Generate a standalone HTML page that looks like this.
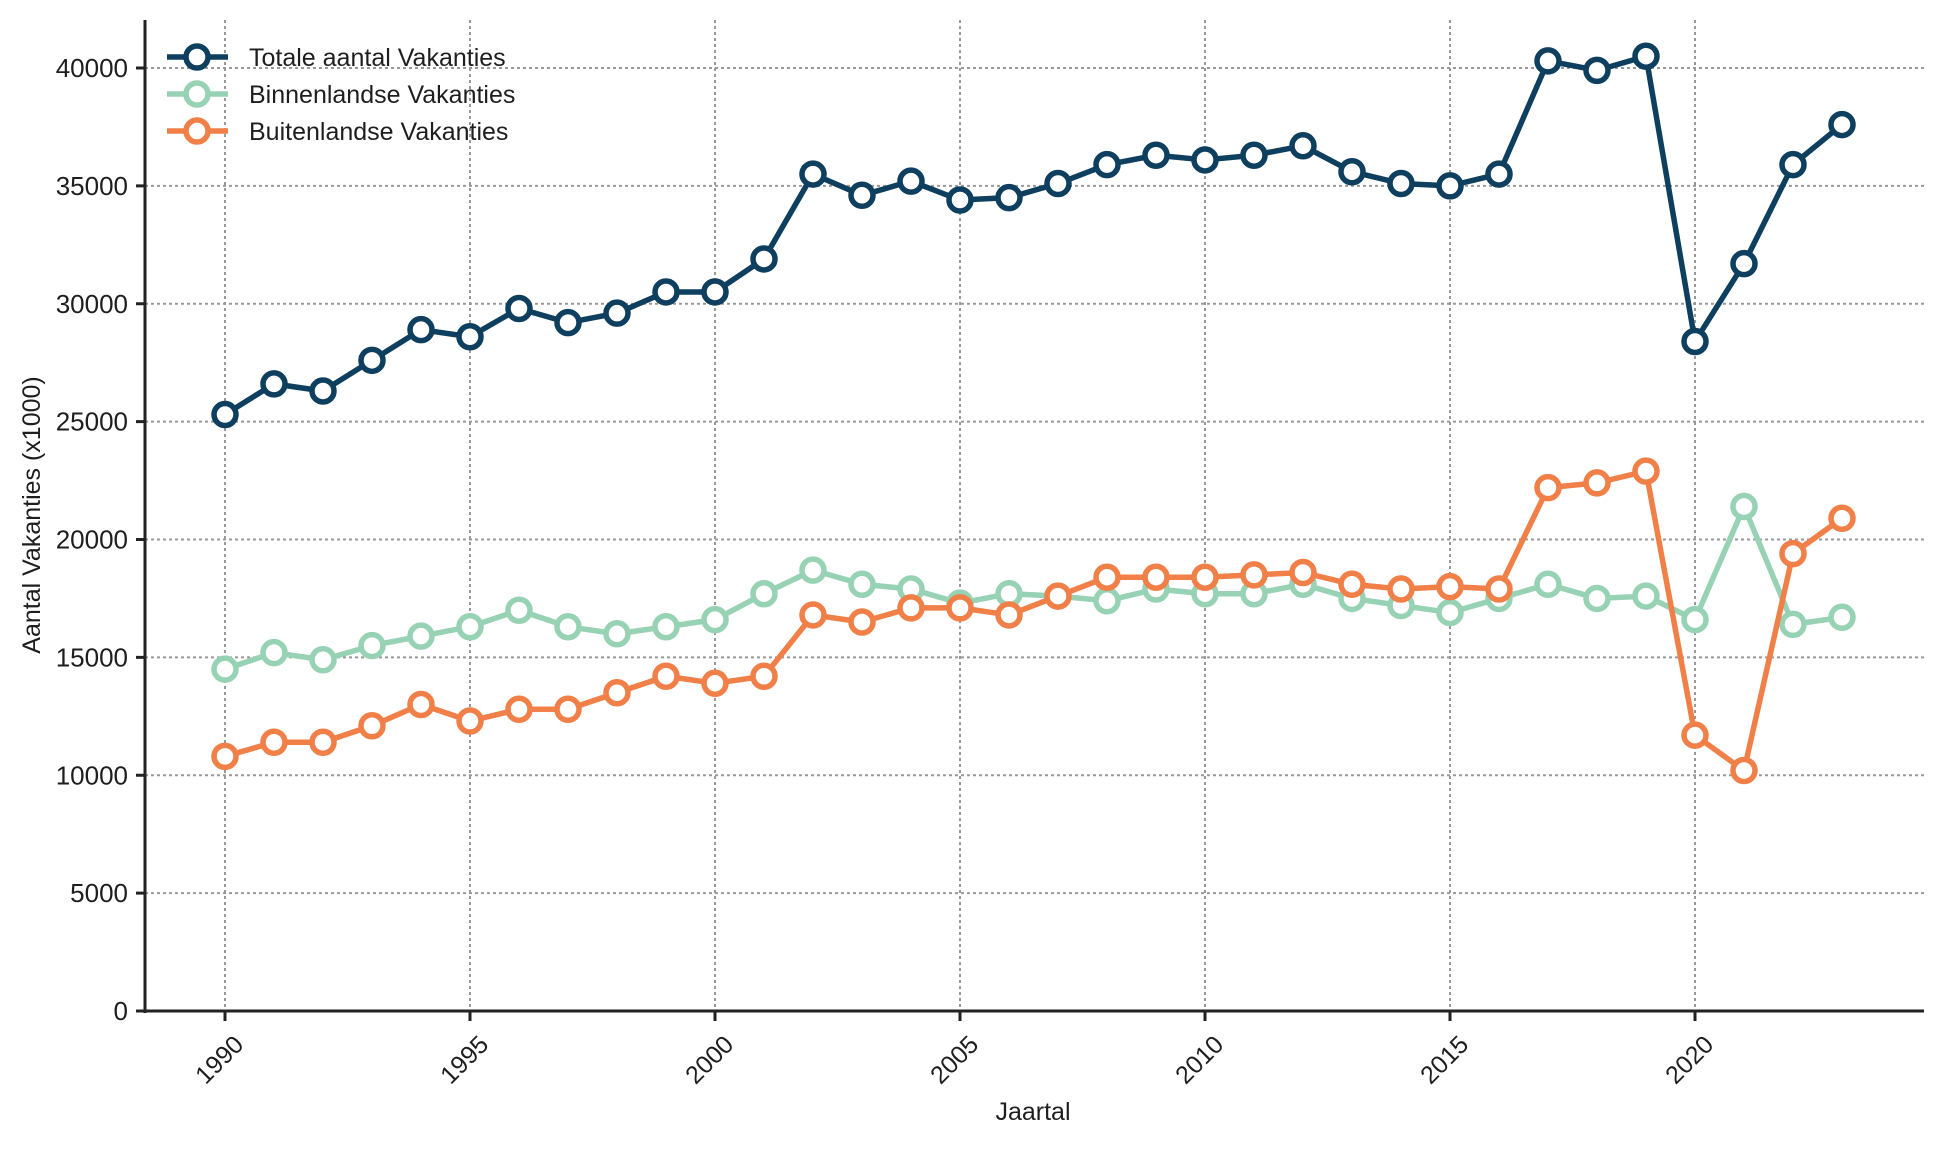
<!DOCTYPE html>
<html><head><meta charset="utf-8"><style>
body{margin:0;background:#fff}
text{font-family:"Liberation Sans",sans-serif;fill:#1e1e1e}
</style></head><body>
<svg id="chart" width="1944" height="1144" viewBox="0 0 1944 1144" xmlns="http://www.w3.org/2000/svg"></svg>
<script>
const years=[];for(let y=1990;y<=2023;y++)years.push(y);
const totale=[25300,26600,26300,27600,28900,28600,29800,29200,29600,30500,30500,31900,35500,34600,35200,34400,34500,35100,35900,36300,36100,36300,36700,35600,35100,35000,35500,40300,39900,40500,28400,31700,35900,37600];
const binnen=[14500,15200,14900,15500,15900,16300,17000,16300,16000,16300,16600,17700,18700,18100,17900,17300,17700,17600,17400,17900,17700,17700,18100,17500,17200,16900,17500,18100,17500,17600,16600,21400,16400,16700];
const buiten=[10800,11400,11400,12100,13000,12300,12800,12800,13500,14200,13900,14200,16800,16500,17100,17100,16800,17600,18400,18400,18400,18500,18600,18100,17900,18000,17900,22200,22400,22900,11700,10200,19400,20900];
const xTicks=[1990,1995,2000,2005,2010,2015,2020];
const yTicks=[0,5000,10000,15000,20000,25000,30000,35000,40000];
const seriesNames=["Totale aantal Vakanties","Binnenlandse Vakanties","Buitenlandse Vakanties"];
const colors=["#0e3f5e","#98d2b4","#f07f48"];
const X=v=>225+(v-1990)*49;
const Y=v=>1011-v*943/40000;
const svg=document.getElementById('chart');
const NS='http://www.w3.org/2000/svg';
function mk(tag,attrs,parent){const e=document.createElementNS(NS,tag);for(const k in attrs)e.setAttribute(k,attrs[k]);(parent||svg).appendChild(e);return e;}
xTicks.forEach(t=>{const l=mk('line',{x1:X(t),x2:X(t),y1:20,y2:1011,stroke:'#999','stroke-width':2,'stroke-dasharray':'3,3'});

});
yTicks.forEach(t=>{if(t===0)return;const l=mk('line',{x1:145,x2:1924,y1:Y(t),y2:Y(t),stroke:'#999','stroke-width':2,'stroke-dasharray':'3,3'});

});
const ax=mk('line',{x1:145,x2:145,y1:20,y2:1013,stroke:'#222','stroke-width':3});


const bx=mk('line',{x1:143,x2:1924,y1:1011,y2:1011,stroke:'#222','stroke-width':3});


yTicks.forEach(t=>{mk('line',{x1:136,x2:145,y1:Y(t),y2:Y(t),stroke:'#222','stroke-width':3});
const tx=mk('text',{x:128,y:Y(t)+9,'text-anchor':'end','font-size':26});tx.textContent=t;

});
xTicks.forEach(t=>{mk('line',{x1:X(t),x2:X(t),y1:1011,y2:1021,stroke:'#222','stroke-width':3});
const tx=mk('text',{x:0,y:0,'text-anchor':'end','font-size':25,transform:`translate(${X(t)+20},${1046}) rotate(-45)`});tx.textContent=t;

});
const yl=mk('text',{x:0,y:0,'text-anchor':'middle','font-size':25,transform:'translate(40,515) rotate(-90)'});yl.textContent='Aantal Vakanties (x1000)';


const xl=mk('text',{x:1033,y:1120,'text-anchor':'middle','font-size':25});xl.textContent='Jaartal';


[totale,binnen,buiten].forEach((d,i)=>{
const g=mk('g',{});


mk('polyline',{points:d.map((v,j)=>X(years[j])+','+Y(v)).join(' '),fill:'none',stroke:colors[i],'stroke-width':5.5,'stroke-linejoin':'round'},g);
d.forEach((v,j)=>{const c=mk('circle',{cx:X(years[j]),cy:Y(v),r:11,fill:'#fff',stroke:colors[i],'stroke-width':5.5},g);

});
});
const lg=mk('g',{});


[57,94,131].forEach((yy,i)=>{
const e=mk('g',{},lg);


mk('line',{x1:167,x2:228,y1:yy,y2:yy,stroke:colors[i],'stroke-width':5.5},e);
mk('circle',{cx:197,cy:yy,r:11,fill:'#fff',stroke:colors[i],'stroke-width':5.5},e);
const t=mk('text',{x:249,y:yy+9,'font-size':25},e);t.textContent=seriesNames[i];
});
</script>
</body></html>
